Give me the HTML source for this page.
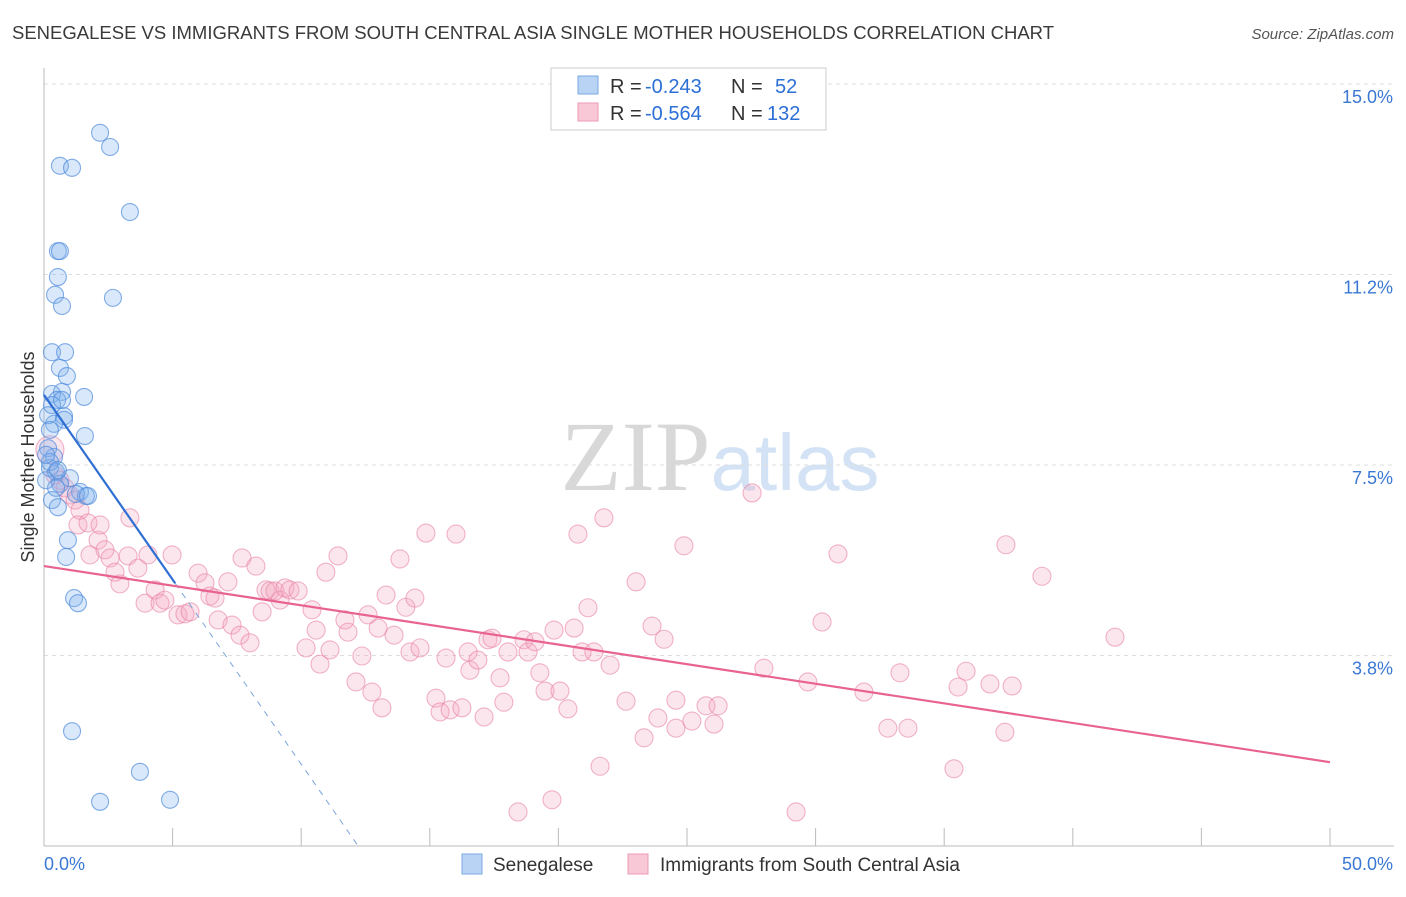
<!DOCTYPE html>
<html><head><meta charset="utf-8"><style>
body{margin:0;background:#fff;font-family:"Liberation Sans",sans-serif}
</style></head><body>
<svg id="chart" width="1406" height="892" xmlns="http://www.w3.org/2000/svg" style="font-family:'Liberation Sans',sans-serif">
<text x="12" y="39" font-size="18.5" fill="#3a3a3a">SENEGALESE VS IMMIGRANTS FROM SOUTH CENTRAL ASIA SINGLE MOTHER HOUSEHOLDS CORRELATION CHART</text>
<text x="1394" y="39" font-size="15" fill="#555" text-anchor="end" font-style="italic">Source: ZipAtlas.com</text>
<text x="720" y="490" font-size="100" text-anchor="middle" fill="#ddd" font-family="Liberation Serif"><tspan fill="#d8d8d8">ZIP</tspan><tspan fill="#d3e3f5" font-family="Liberation Sans" font-size="80">atlas</tspan></text>
<g id="grid"></g>
<g id="axes"></g>
<g id="pink"></g>
<g id="blue"></g>
<g id="lines"></g>
<text transform="translate(34,457) rotate(-90)" font-size="18" fill="#333" text-anchor="middle">Single Mother Households</text>
<g>
<rect x="551" y="68" width="275" height="62" fill="#fff" stroke="#ccc"/>
<rect x="578" y="76" width="20" height="18" fill="#b8d3f4" stroke="#7aa9e0"/>
<rect x="578" y="103" width="20" height="18" fill="#f9c8d6" stroke="#ec9ab2"/>
<text x="610" y="93" font-size="20" fill="#333">R =</text>
<text x="645" y="93" font-size="20" fill="#2c6fd6">-0.243</text>
<text x="731" y="93" font-size="20" fill="#333">N =</text>
<text x="775" y="93" font-size="20" fill="#2c6fd6">52</text>
<text x="610" y="120" font-size="20" fill="#333">R =</text>
<text x="645" y="120" font-size="20" fill="#2c6fd6">-0.564</text>
<text x="731" y="120" font-size="20" fill="#333">N =</text>
<text x="767" y="120" font-size="20" fill="#2c6fd6">132</text>
</g>
<g>
<rect x="462" y="854" width="20" height="20" fill="#b8d3f4" stroke="#7aa9e0"/>
<text x="493" y="871" font-size="19" fill="#333">Senegalese</text>
<rect x="628" y="854" width="20" height="20" fill="#f9c8d6" stroke="#ec9ab2"/>
<text x="660" y="871" font-size="19" fill="#333">Immigrants from South Central Asia</text>
</g>
</svg>
<script>
const yTicks=[15.0,11.25,7.5,3.75];
const yTickLabels=["15.0%","11.2%","7.5%","3.8%"];
const xTicks=[0,5,10,15,20,25,30,35,40,45,50];
const blueX=[2.18,2.57,0.62,1.09,3.34,0.54,0.62,0.54,0.43,0.70,2.68,0.31,0.82,0.62,0.89,0.70,0.31,1.56,0.51,0.31,0.78,0.78,0.39,1.59,0.16,0.39,0.23,0.47,1.01,0.62,1.40,1.63,0.31,0.54,0.93,0.86,1.17,1.32,1.09,3.73,2.18,4.90,0.16,0.23,0.08,0.47,1.24,0.70,0.23,0.08,0.54,1.71];
const blueY=[14.04,13.76,13.39,13.35,12.48,11.71,11.71,11.20,10.85,10.63,10.79,9.72,9.72,9.41,9.25,8.94,8.90,8.84,8.78,8.68,8.46,8.39,8.31,8.07,7.83,7.66,7.44,7.36,7.24,7.13,6.97,6.89,6.81,6.67,6.02,5.69,4.88,4.78,2.26,1.46,0.87,0.91,8.48,7.56,7.20,7.05,6.93,8.78,8.19,7.70,7.40,6.89];
const pinkX=[0.23,0.43,0.62,0.82,1.01,1.21,1.40,1.32,1.71,1.79,2.10,2.37,2.57,2.76,2.95,3.27,3.65,3.34,4.04,3.93,4.32,4.51,4.70,4.98,5.21,5.48,5.68,5.99,6.26,6.45,6.65,6.77,7.15,7.31,7.62,8.01,7.70,8.24,8.48,8.63,8.79,8.98,9.18,9.37,9.56,9.88,10.19,10.42,10.58,10.73,11.12,10.96,11.43,11.70,11.82,12.13,12.36,12.75,12.60,12.99,13.14,13.30,13.61,13.84,14.07,14.23,14.42,14.62,14.85,15.24,15.40,15.63,15.79,16.02,16.25,16.49,16.56,16.87,17.11,17.26,17.42,17.73,17.88,18.04,18.43,18.66,18.82,19.09,19.28,19.48,19.75,19.83,20.06,20.37,20.61,20.76,20.92,21.15,21.38,21.62,21.77,22.01,22.63,23.02,23.33,23.64,23.87,24.11,24.57,24.57,24.88,25.19,25.74,26.05,26.21,27.53,27.99,29.24,29.70,30.25,30.87,31.88,32.81,33.28,33.59,35.38,35.54,35.85,36.78,37.40,37.64,37.36,38.80,41.64,2.18];
const pinkY=[7.80,7.30,7.20,7.05,6.91,6.81,6.61,6.32,6.36,5.73,6.02,5.83,5.67,5.39,5.16,5.71,5.47,6.46,5.73,4.78,5.04,4.78,4.84,5.73,4.55,4.57,4.61,5.37,5.18,4.92,4.88,4.45,5.20,4.35,4.15,4.00,5.67,5.51,4.61,5.04,5.02,5.02,4.84,5.08,5.04,5.02,3.90,4.65,4.25,3.58,3.86,5.39,5.71,4.45,4.21,3.23,3.74,3.03,4.55,4.29,2.72,4.94,4.15,5.65,4.70,3.82,4.88,3.90,6.16,2.91,2.64,3.70,2.68,6.14,2.72,3.82,3.46,3.66,2.54,4.06,4.09,3.31,2.83,3.82,0.67,4.06,3.82,4.02,3.41,3.05,0.91,4.25,3.05,2.70,4.29,6.14,3.82,4.69,3.82,1.57,6.46,3.56,2.85,5.20,2.13,4.33,2.52,4.07,2.87,2.32,5.91,2.46,2.76,2.40,2.76,6.95,3.50,0.67,3.23,4.41,5.75,3.03,2.32,3.41,2.32,1.52,3.13,3.44,3.19,5.93,3.15,2.24,5.31,4.11,6.32];
const blueTrend=[8.88,-0.727];
const pinkTrend=[5.51,-0.0772];
const NS="http://www.w3.org/2000/svg";
const X=v=>44+v*25.72;
const Y=v=>846-v*50.8;
function mk(t,a,p){const e=document.createElementNS(NS,t);for(const k in a)e.setAttribute(k,a[k]);document.getElementById(p).appendChild(e);return e;}
yTicks.forEach((t,i)=>{
 const l=mk('line',{x1:44,x2:1394,y1:Y(t),y2:Y(t),stroke:'#ddd','stroke-dasharray':'4,4'},'grid');
 
 
 const tx=mk('text',{x:1393,y:Y(t)+19,'font-size':18,fill:'#3a78d4','text-anchor':'end'},'axes');
 tx.textContent=yTickLabels[i];
 
 
});
const ax=mk('line',{x1:44,x2:44,y1:68,y2:846,stroke:'#bbb'},'axes');


const bx=mk('line',{x1:44,x2:1394,y1:846,y2:846,stroke:'#bbb'},'axes');


xTicks.forEach(t=>{
 const l=mk('line',{x1:X(t),x2:X(t),y1:828,y2:846,stroke:'#bbb'},'axes');
 
 
});
const x0=mk('text',{x:44,y:870,'font-size':18,fill:'#3a78d4'},'axes');x0.textContent='0.0%';


const x1=mk('text',{x:1393,y:870,'font-size':18,fill:'#3a78d4','text-anchor':'end'},'axes');x1.textContent='50.0%';


pinkX.forEach((v,i)=>{
 const c=mk('circle',{cx:X(v),cy:Y(pinkY[i]),r:i==0?14:9,fill:'rgba(244,165,192,0.28)',stroke:'rgba(232,130,165,0.6)','stroke-width':1.1},'pink');
 
 
});
blueX.forEach((v,i)=>{
 const c=mk('circle',{cx:X(v),cy:Y(blueY[i]),r:8.5,fill:'rgba(130,178,238,0.3)',stroke:'rgba(80,140,220,0.7)','stroke-width':1.1},'blue');
 
 
});
const bEnd=5.1, bZero=-blueTrend[0]/blueTrend[1];
const bl=mk('line',{x1:X(0),y1:Y(blueTrend[0]),x2:X(bEnd),y2:Y(blueTrend[0]+blueTrend[1]*bEnd),stroke:'#2f6fd3','stroke-width':2.2},'lines');


const bd=mk('line',{x1:X(bEnd),y1:Y(blueTrend[0]+blueTrend[1]*bEnd),x2:X(bZero),y2:Y(0),stroke:'#7aa4dd','stroke-width':1,'stroke-dasharray':'6,6'},'lines');


const pl=mk('line',{x1:X(0),y1:Y(pinkTrend[0]),x2:X(50),y2:Y(pinkTrend[0]+pinkTrend[1]*50),stroke:'#e8638f','stroke-width':2.2},'lines');


</script>
</body></html>
